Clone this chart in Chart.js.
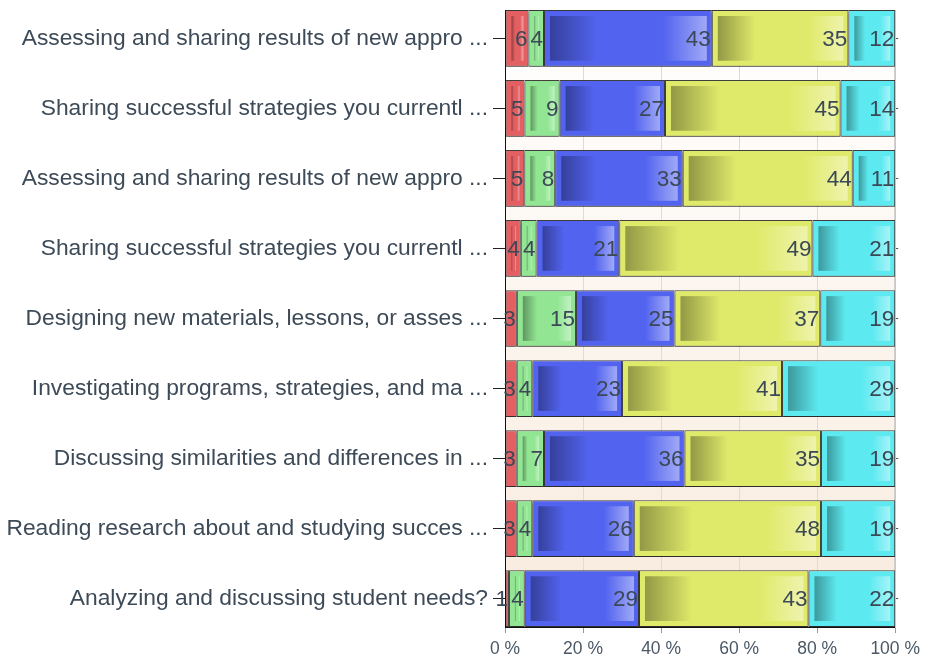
<!DOCTYPE html>
<html>
<head>
<meta charset="utf-8">
<script src="https://cdn.jsdelivr.net/npm/chart.js@4"></script>
<style>
  body { margin: 0; background: #fff; }
  #wrap { width: 926px; height: 660px; position: relative; }
</style>
</head>
<body>
<div id="wrap"><canvas id="myChart"></canvas></div>
<script>
// Questions (category axis, top to bottom)
var questions = [
  "Assessing and sharing results of new appro ...",
  "Sharing successful strategies you currentl ...",
  "Assessing and sharing results of new appro ...",
  "Sharing successful strategies you currentl ...",
  "Designing new materials, lessons, or asses ...",
  "Investigating programs, strategies, and ma ...",
  "Discussing similarities and differences in ...",
  "Reading research about and studying succes ...",
  "Analyzing and discussing student needs?"
];

// Answer shares in percent, one array per answer level
var redValues = [6, 5, 5, 4, 3, 3, 3, 3, 1];
var greenValues = [4, 9, 8, 4, 15, 4, 7, 4, 4];
var blueValues = [43, 27, 33, 21, 25, 23, 36, 26, 29];
var yellowValues = [35, 45, 44, 49, 37, 41, 35, 48, 43];
var cyanValues = [12, 14, 11, 21, 19, 29, 19, 19, 22];

var xTickValues = [0, 20, 40, 60, 80, 100];

var series = [redValues, greenValues, blueValues, yellowValues, cyanValues];
var colors = ["#e35f62", "#92e693", "#5263ef", "#e0ea6a", "#5ceaf0"];

var barPct = 0.81;

// rounded shares don't always add up to 100, so scale each row to a full bar
var totals = questions.map(function (q, i) {
  return series.reduce(function (s, arr) { return s + arr[i]; }, 0);
});

var datasets = series.map(function (arr, k) {
  return {
    label: "level " + (k + 1),
    data: arr.map(function (v, i) { return { x: v / totals[i] * 100, y: i }; }),
    backgroundColor: colors[k],
    borderColor: "rgba(30,30,30,0.85)",
    borderWidth: 1,
    borderSkipped: false,
    barPercentage: barPct,
    categoryPercentage: 1
  };
});

function mix(hex, f) {
  var r = parseInt(hex.slice(1, 3), 16), g = parseInt(hex.slice(3, 5), 16), b = parseInt(hex.slice(5, 7), 16);
  if (f < 0) { r *= 1 + f; g *= 1 + f; b *= 1 + f; }
  else { r += (255 - r) * f; g += (255 - g) * f; b += (255 - b) * f; }
  return "rgb(" + Math.round(r) + "," + Math.round(g) + "," + Math.round(b) + ")";
}

var labelFont = "Liberation Sans, Arial, sans-serif";
// bars touch the top and bottom of the plot
var yMin = -0.5 + (1 - barPct) / 2;
var yMax = questions.length - 0.5 - (1 - barPct) / 2;

function indexTicks(scale) {
  scale.ticks = questions.map(function (q, i) { return { value: i }; });
}

var barStyle = {
  id: "barStyle",
  beforeDraw: function (chart) {
    var a = chart.chartArea, ctx = chart.ctx;
    var grd = ctx.createLinearGradient(0, a.top, 0, a.bottom);
    grd.addColorStop(0, "#ffffff");
    grd.addColorStop(1, "#f8ebdd");
    ctx.save();
    ctx.fillStyle = grd;
    ctx.fillRect(a.left, a.top, a.right - a.left, a.bottom - a.top);
    ctx.strokeStyle = "#c8c8c8";
    ctx.lineWidth = 1;
    ctx.strokeRect(a.left + 0.5, a.top + 0.5, a.right - a.left - 1, a.bottom - a.top);
    ctx.restore();
  },
  beforeDatasetsDraw: function (chart) {
    var ctx = chart.ctx;
    ctx.save();
    ctx.shadowColor = "rgba(0,0,0,0.3)";
    ctx.shadowOffsetY = 3;
    ctx.shadowBlur = 3;
  },
  afterDatasetsDraw: function (chart) {
    var ctx = chart.ctx;
    ctx.restore();
    ctx.save();
    // inner glossy panel of each segment
    chart.data.datasets.forEach(function (ds, k) {
      chart.getDatasetMeta(k).data.forEach(function (el) {
        var p = el.getProps(["x", "y", "base", "height"], true);
        var left = Math.min(p.x, p.base) + 6, right = Math.max(p.x, p.base) - 5;
        var top = p.y - p.height / 2 + 6, h = p.height - 12;
        if (right - left < 2) return;
        var grd = ctx.createLinearGradient(left, 0, right, 0);
        grd.addColorStop(0, mix(colors[k], -0.35));
        grd.addColorStop(0.3, colors[k]);
        grd.addColorStop(0.72, colors[k]);
        grd.addColorStop(1, mix(colors[k], 0.45));
        ctx.fillStyle = grd;
        ctx.fillRect(left, top, right - left, h);
      });
    });
    // value labels at the end of each segment
    ctx.font = "22.5px " + labelFont;
    ctx.fillStyle = "#3b4856";
    ctx.textAlign = "right";
    ctx.textBaseline = "middle";
    series.forEach(function (arr, k) {
      chart.getDatasetMeta(k).data.forEach(function (el, i) {
        var p = el.getProps(["x", "y", "base"], true);
        ctx.fillText(String(arr[i]), Math.max(p.x, p.base) - 1, p.y + 1);
      });
    });
    ctx.restore();
  }
};

function noEdgePadding(scale) {
  scale.paddingTop = 0;
  scale.paddingBottom = 0;
}

var ctx = document.getElementById("myChart").getContext("2d");
var myChart = new Chart(ctx, {
  type: "bar",
  data: { datasets: datasets },
  options: {
    indexAxis: "y",
    responsive: true,
    maintainAspectRatio: false,
    animation: false,
    layout: { padding: { top: 10, left: 0, right: 0, bottom: 0 } },
    plugins: { legend: { display: false }, tooltip: { enabled: false } },
    scales: {
      x: {
        type: "linear",
        stacked: true,
        min: 0,
        max: 100,
        afterBuildTicks: function (scale) {
          scale.ticks = xTickValues.map(function (v) { return { value: v }; });
        },
        ticks: {
          callback: function (v) { return v + " %"; },
          font: { family: labelFont, size: 17.5 },
          color: "#4a5866",
          padding: 6
        },
        grid: { color: "#dcdcdc", tickColor: "#9a9a9a", tickLength: 6 },
        border: { color: "#111", width: 1 },
        afterFit: function (scale) { scale.height = 33; }
      },
      y: {
        type: "linear",
        stacked: true,
        reverse: true,
        offset: false,
        min: yMin,
        max: yMax,
        afterBuildTicks: indexTicks,
        ticks: {
          callback: function (v) { return questions[v]; },
          font: { family: labelFont, size: 22.8 },
          color: "#3d4a57",
          padding: 5
        },
        grid: { offset: false, drawOnChartArea: false, tickColor: "#222", tickLength: 12 },
        border: { color: "#111", width: 1 },
        afterFit: function (scale) { scale.width = 505; noEdgePadding(scale); }
      },
      y2: {
        type: "linear",
        position: "right",
        reverse: true,
        offset: false,
        min: yMin,
        max: yMax,
        afterBuildTicks: indexTicks,
        ticks: { callback: function () { return ""; }, padding: 0 },
        grid: { offset: false, drawOnChartArea: false, tickColor: "#555", tickLength: 3 },
        border: { color: "#c8c8c8", width: 1 },
        afterFit: function (scale) { scale.width = 29; noEdgePadding(scale); }
      }
    }
  },
  plugins: [barStyle]
});
</script>
</body>
</html>
